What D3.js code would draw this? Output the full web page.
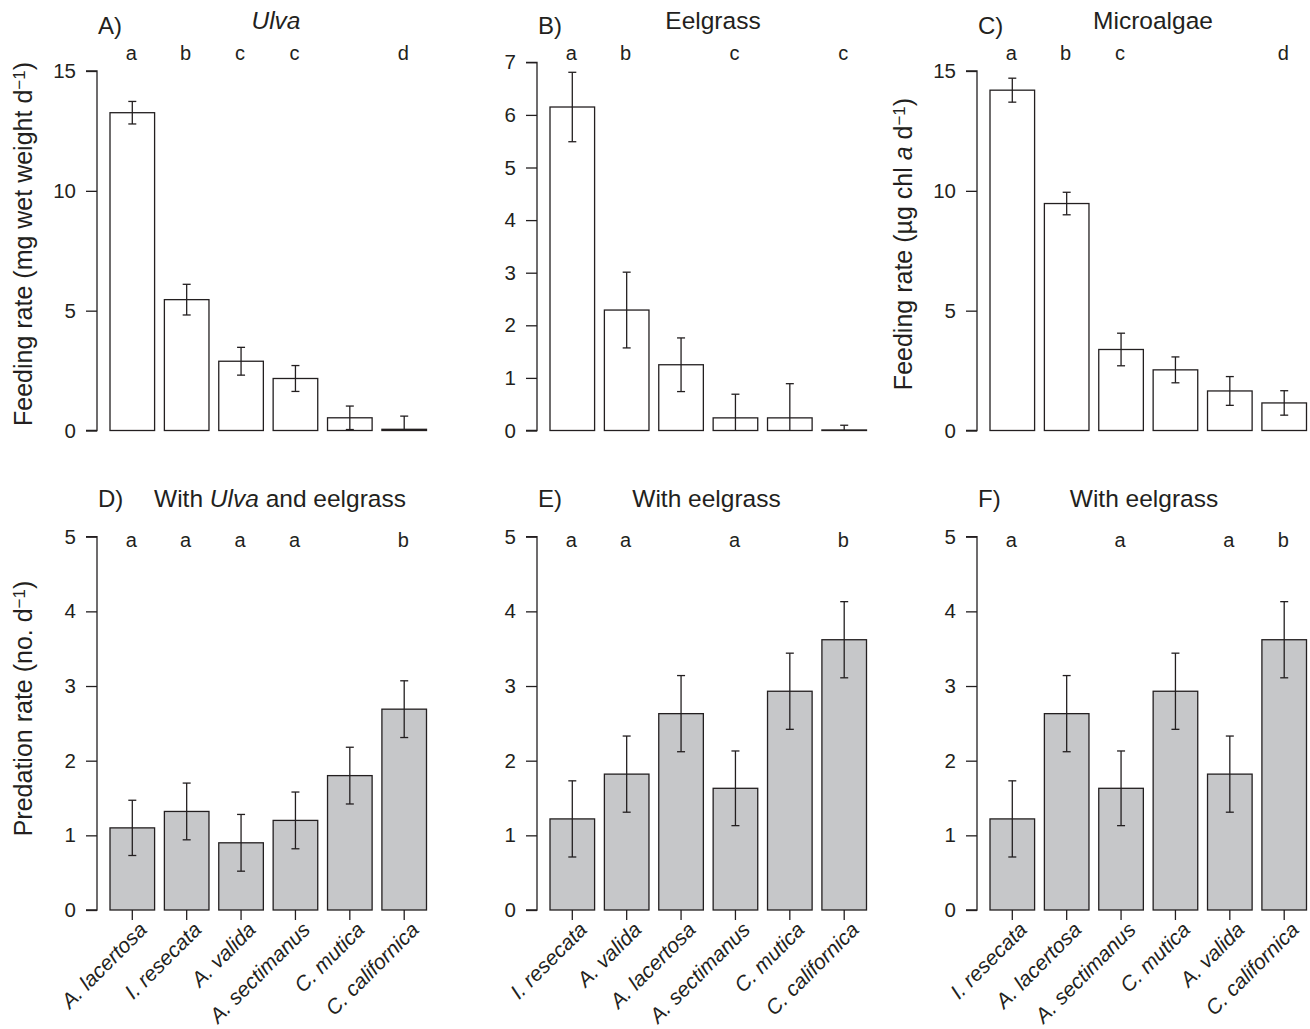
<!DOCTYPE html>
<html>
<head>
<meta charset="utf-8">
<script src="https://cdn.jsdelivr.net/npm/d3@7"></script>
<style>
  html, body { margin: 0; padding: 0; background: #fff; }
  svg text { font-family: "Liberation Sans", Arial, Helvetica, sans-serif; fill: #231f20; }
</style>
</head>
<body>
<svg id="chart" width="1310" height="1029"></svg>
<script>
// ---------- data ----------
const catsD = ["A. lacertosa", "I. resecata", "A. valida", "A. sectimanus", "C. mutica", "C. californica"];
const catsE = ["I. resecata", "A. valida", "A. lacertosa", "A. sectimanus", "C. mutica", "C. californica"];
const catsF = ["I. resecata", "A. lacertosa", "A. sectimanus", "C. mutica", "A. valida", "C. californica"];

const ulvaMean  = [13.26, 5.46, 2.89, 2.17, 0.53, 0.05];
const ulvaSE    = [0.47, 0.64, 0.58, 0.54, 0.49, 0.55];
const ulvaLetters = ["a", "b", "c", "c", "", "d"];

const eelMean   = [6.15, 2.29, 1.25, 0.24, 0.24, 0.01];
const eelSE     = [0.66, 0.72, 0.51, 0.45, 0.65, 0.09];
const eelLetters = ["a", "b", "", "c", "", "c"];

const microMean = [14.2, 9.47, 3.38, 2.53, 1.65, 1.15];
const microSE   = [0.50, 0.47, 0.68, 0.54, 0.60, 0.51];
const microLetters = ["a", "b", "c", "", "", "d"];

const predDMean = [1.10, 1.32, 0.90, 1.20, 1.80, 2.69];
const predDSE   = [0.37, 0.38, 0.38, 0.38, 0.38, 0.38];
const predDLetters = ["a", "a", "a", "a", "", "b"];

const predEMean = [1.22, 1.82, 2.63, 1.63, 2.93, 3.62];
const predESE   = [0.51, 0.51, 0.51, 0.50, 0.51, 0.51];
const predELetters = ["a", "a", "", "a", "", "b"];

const predFMean = [1.22, 2.63, 1.63, 2.93, 1.82, 3.62];
const predFSE   = [0.51, 0.51, 0.50, 0.51, 0.51, 0.51];
const predFLetters = ["a", "", "a", "", "a", "b"];

const ticksFeed15 = [0, 5, 10, 15];
const ticksFeed7  = [0, 1, 2, 3, 4, 5, 6, 7];
const ticksPred   = [0, 1, 2, 3, 4, 5];

// ---------- layout ----------
const ink = "#231f20";
const grayFill = "#c6c7c9";
const svg = d3.select("#chart");

const panels = [
  { tag: "A)", title: [{t: "Ulva", i: true}], cats: catsD, mean: ulvaMean, se: ulvaSE, letters: ulvaLetters,
    ticks: ticksFeed15, ymax: 15, ax: 97, y0: 430.5, ytop: 71, fill: "#fff", xlabels: false, titleDx: 179,
    ylabel: [{t: "Feeding rate (mg wet weight d"}, {t: "\u22121", sup: true}, {t: ")"}] },
  { tag: "B)", title: [{t: "Eelgrass"}], cats: catsE, mean: eelMean, se: eelSE, letters: eelLetters,
    ticks: ticksFeed7, ymax: 7, ax: 537, y0: 430.5, ytop: 62.3, fill: "#fff", xlabels: false, titleDx: 176 },
  { tag: "C)", title: [{t: "Microalgae"}], cats: catsF, mean: microMean, se: microSE, letters: microLetters,
    ticks: ticksFeed15, ymax: 15, ax: 977, y0: 430.5, ytop: 71, fill: "#fff", xlabels: false, titleDx: 176,
    ylabel: [{t: "Feeding rate (\u00b5g chl "}, {t: "a", i: true}, {t: " d"}, {t: "\u22121", sup: true}, {t: ")"}] },
  { tag: "D)", title: [{t: "With "}, {t: "Ulva", i: true}, {t: " and eelgrass"}], cats: catsD, mean: predDMean, se: predDSE, letters: predDLetters,
    ticks: ticksPred, ymax: 5, ax: 97, y0: 910, ytop: 536.7, fill: grayFill, xlabels: true, titleDx: 183,
    ylabel: [{t: "Predation rate (no. d"}, {t: "\u22121", sup: true}, {t: ")"}] },
  { tag: "E)", title: [{t: "With eelgrass"}], cats: catsE, mean: predEMean, se: predESE, letters: predELetters,
    ticks: ticksPred, ymax: 5, ax: 537, y0: 910, ytop: 536.7, fill: grayFill, xlabels: true, titleDx: 169.5 },
  { tag: "F)", title: [{t: "With eelgrass"}], cats: catsF, mean: predFMean, se: predFSE, letters: predFLetters,
    ticks: ticksPred, ymax: 5, ax: 977, y0: 910, ytop: 536.7, fill: grayFill, xlabels: true, titleDx: 167 }
];

function addRich(sel, parts, baseSize) {
  parts.forEach(p => {
    const ts = sel.append("tspan").text(p.t);
    if (p.i) ts.attr("font-style", "italic");
    if (p.sup) ts.attr("font-size", baseSize * 0.68).attr("baseline-shift", "42%");
  });
}

panels.forEach((p, pi) => {
  const g = svg.append("g");
  const top = p.y0 < 500;
  const x = d3.scaleBand().domain(p.cats).range([p.ax + 13, p.ax + 329.5]).paddingInner(0.18).paddingOuter(0);
  const y = d3.scaleLinear().domain([0, p.ymax]).range([p.y0, p.ytop]);

  // y axis
  const yAxis = d3.axisLeft(y).tickValues(p.ticks).tickSize(11).tickPadding(10).tickFormat(d3.format("d"));
  const ya = g.append("g").attr("transform", `translate(${p.ax},0)`).call(yAxis);
  ya.select(".domain").attr("stroke", ink).attr("stroke-width", 1.3).attr("d", `M-11,${y(p.ymax)}H0V${y(0)}H-11`);
  ya.selectAll(".tick line").attr("stroke", ink).attr("stroke-width", 1.3);
  ya.selectAll(".tick text").attr("font-size", 20.5).attr("fill", ink)
    .attr("font-family", '"Liberation Sans", Arial, sans-serif');

  // bars
  const data = p.cats.map((c, i) => ({ c, v: p.mean[i], se: p.se[i], l: p.letters[i] }));
  g.selectAll("rect.bar").data(data).enter().append("rect")
    .attr("x", d => x(d.c)).attr("width", x.bandwidth())
    .attr("y", d => y(d.v)).attr("height", d => y(0) - y(d.v))
    .attr("fill", p.fill).attr("stroke", ink).attr("stroke-width", 1.3);

  // error bars
  const cap = 4;
  data.forEach(d => {
    const cx = x(d.c) + x.bandwidth() / 2;
    const hi = d.v + d.se, lo = Math.max(0, d.v - d.se);
    g.append("line").attr("x1", cx).attr("x2", cx).attr("y1", y(hi)).attr("y2", y(lo))
      .attr("stroke", ink).attr("stroke-width", 1.3);
    g.append("line").attr("x1", cx - cap).attr("x2", cx + cap).attr("y1", y(hi)).attr("y2", y(hi))
      .attr("stroke", ink).attr("stroke-width", 1.3);
    if (d.v - d.se > 0) {
      g.append("line").attr("x1", cx - cap).attr("x2", cx + cap).attr("y1", y(lo)).attr("y2", y(lo))
        .attr("stroke", ink).attr("stroke-width", 1.3);
    }
    if (d.l) {
      g.append("text").attr("x", cx - 1).attr("y", top ? 60 : 547)
        .attr("text-anchor", "middle").attr("font-size", 20).text(d.l);
    }
  });

  // x axis (ticks + rotated labels)
  if (p.xlabels) {
    const xAxis = d3.axisBottom(x).tickSize(10).tickFormat("");
    const xa = g.append("g").attr("transform", `translate(0,${p.y0})`).call(xAxis);
    xa.select(".domain").remove();
    xa.selectAll(".tick line").attr("stroke", ink).attr("stroke-width", 1.3);
    g.selectAll("text.xl").data(p.cats).enter().append("text")
      .attr("class", "xl")
      .attr("transform", c => `translate(${x(c) + x.bandwidth() / 2 + 16},${p.y0 + 21}) rotate(-45)`)
      .attr("text-anchor", "end").attr("font-size", 21).attr("font-style", "italic")
      .text(c => c);
  }

  // panel tag and title
  g.append("text").attr("x", p.ax + 1).attr("y", top ? 34 : 507).attr("font-size", 24).text(p.tag);
  const tt = g.append("text").attr("x", p.ax + p.titleDx).attr("y", top ? 29 : 506.5)
    .attr("text-anchor", "middle").attr("font-size", 24.5);
  addRich(tt, p.title, 24.5);

  // y label
  if (p.ylabel) {
    const cy = top ? 244 : 708.5;
    const yl = g.append("text").attr("transform", `translate(${p.ax - 65.5},${cy}) rotate(-90)`)
      .attr("text-anchor", "middle").attr("font-size", 25);
    addRich(yl, p.ylabel, 25);
  }
});
</script>
</body>
</html>
